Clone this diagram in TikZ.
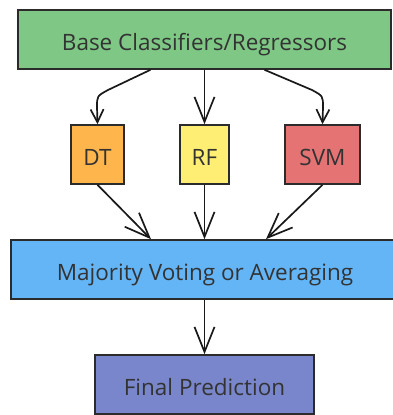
\documentclass[tikz,border=0pt]{standalone}
\usepackage{fontspec}
\setmainfont{Open Sans}
\usetikzlibrary{arrows.meta}
\definecolor{txt}{HTML}{333333}
\definecolor{edge}{HTML}{2B2B2B}
\definecolor{cgreen}{HTML}{7EC784}
\definecolor{corange}{HTML}{FDB54C}
\definecolor{cyellow}{HTML}{FEEE73}
\definecolor{cred}{HTML}{E57373}
\definecolor{cblue}{HTML}{64B5F6}
\definecolor{cpurple}{HTML}{7986CB}
\tikzset{
  box/.style={draw=edge, line width=1.6pt, rectangle, inner sep=0pt, text=txt, text height=21.5pt, text depth=0pt, font=\fontsize{22.5}{26}\selectfont},
  bigarrow/.style={draw=black!90, line width=1.7pt, -{Straight Barb[length=25pt,width=20pt,line width=1.7pt]}},
  smallarrow/.style={draw=black!90, line width=1.7pt, -{Straight Barb[length=13pt,width=13pt,line width=1.7pt]}}
}
\begin{document}
\begin{tikzpicture}[x=1pt,y=-1pt]
\useasboundingbox (0,0) rectangle (393,415);
\node[box, fill=cgreen, minimum width=373pt, minimum height=59pt] (top) at (204.5,39.5) {Base Classifiers/Regressors};
\node[box, fill=corange, minimum width=53pt, minimum height=59pt] (dt) at (97.5,154.5) {DT};
\node[box, fill=cyellow, minimum width=49pt, minimum height=59pt] (rf) at (204.5,154.5) {RF};
\node[box, fill=cred, minimum width=75pt, minimum height=59pt] (svm) at (322.5,154.5) {SVM};
\node[box, fill=cblue, minimum width=388pt, minimum height=59pt] (maj) at (205,269.5) {Majority Voting or Averaging};
\node[box, fill=cpurple, minimum width=219pt, minimum height=59pt] (fin) at (204.5,384.5) {Final Prediction};

\draw[smallarrow] ([xshift=-54pt]top.south) -- (108,90) .. controls (97,96) .. (97,107) -- (dt.north);
\draw[bigarrow] (top.south -| rf.north) -- (rf.north);
\draw[smallarrow] ([xshift=60pt]top.south) -- (312,90) .. controls (323,96) .. (323,107) -- (svm.north);

\draw[bigarrow] (dt.south) -- ([xshift=-54pt]maj.north);
\draw[bigarrow] (rf.south) -- (rf.south |- maj.north);
\draw[bigarrow] (svm.south) -- ([xshift=61pt]maj.north);
\draw[bigarrow] (maj.south -| fin.north) -- (fin.north);
\end{tikzpicture}
\end{document}
